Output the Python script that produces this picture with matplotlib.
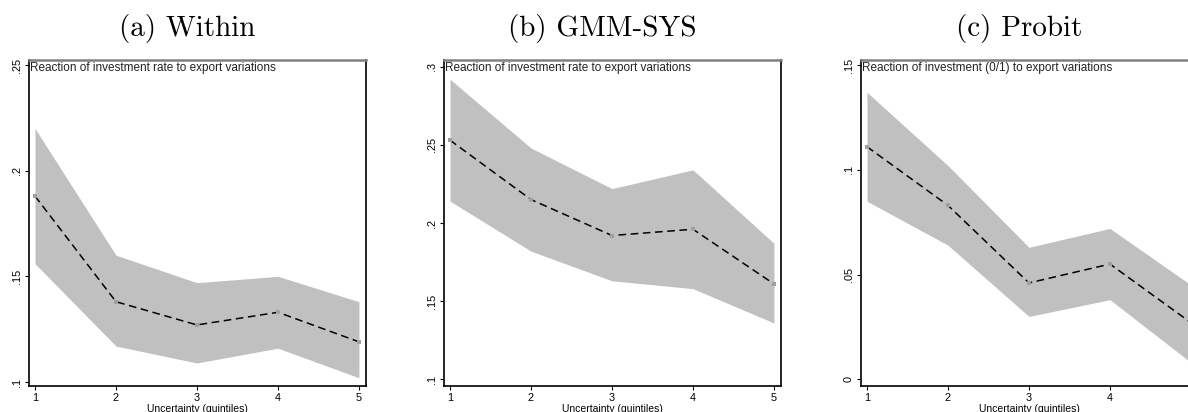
import matplotlib
matplotlib.use("Agg")
import matplotlib.pyplot as plt

quintiles = [1, 2, 3, 4, 5]

# (a) Within
within_est = [0.188, 0.138, 0.127, 0.133, 0.119]
within_hi = [0.220, 0.160, 0.147, 0.150, 0.138]
within_lo = [0.156, 0.117, 0.109, 0.116, 0.102]
within_yticks = [0.1, 0.15, 0.2, 0.25]
within_ylabels = [".1", ".15", ".2", ".25"]

# (b) GMM-SYS
gmm_est = [0.253, 0.215, 0.192, 0.196, 0.161]
gmm_hi = [0.292, 0.248, 0.222, 0.234, 0.187]
gmm_lo = [0.214, 0.182, 0.163, 0.158, 0.136]
gmm_yticks = [0.1, 0.15, 0.2, 0.25, 0.3]
gmm_ylabels = [".1", ".15", ".2", ".25", ".3"]

# (c) Probit
probit_est = [0.111, 0.083, 0.046, 0.055, 0.027]
probit_hi = [0.137, 0.102, 0.063, 0.072, 0.045]
probit_lo = [0.085, 0.064, 0.030, 0.038, 0.008]
probit_yticks = [0, 0.05, 0.1, 0.15]
probit_ylabels = ["0", ".05", ".1", ".15"]

titles = ["(a) Within", "(b) GMM-SYS", "(c) Probit"]
notes = ["Reaction of investment rate to export variations",
         "Reaction of investment rate to export variations",
         "Reaction of investment (0/1) to export variations"]

panels = [
    (within_est, within_hi, within_lo, within_yticks, within_ylabels, (0.0981, 0.2524)),
    (gmm_est, gmm_hi, gmm_lo, gmm_yticks, gmm_ylabels, (0.0957, 0.3043)),
    (probit_est, probit_hi, probit_lo, probit_yticks, probit_ylabels, (-0.0032, 0.1524)),
]

W, H = 1188, 412
fig = plt.figure(figsize=(W / 100, H / 100), dpi=100)
lefts = [29, 444, 861]
ax_w = 337
top, bottom = 60, 386
sans = "Liberation Sans"

for i, (est, hi, lo, yt, yl, ylim) in enumerate(panels):
    ax = fig.add_axes([lefts[i] / W, 1 - bottom / H, ax_w / W, (bottom - top) / H])
    ax.fill_between(quintiles, lo, hi, color="#c0c0c0", linewidth=0)
    ax.plot(quintiles, est, color="black", linestyle=(0, (5, 3)), linewidth=1.1)
    ax.plot(quintiles, est, linestyle="none", marker="s", markersize=3.5,
            color="#a0a0a0", markeredgewidth=0)
    ax.set_xlim(0.926, 5.087)
    ax.set_ylim(*ylim)
    ax.set_xticks(quintiles)
    ax.set_xticklabels([str(q) for q in quintiles], fontsize=7.8, family=sans)
    ax.set_yticks(yt)
    ax.set_yticklabels(yl, fontsize=7.8, family=sans, rotation=90, va="center")
    ax.tick_params(length=3, width=0.8, pad=2)
    ax.set_xlabel("Uncertainty (quintiles)", fontsize=7.5, family=sans, labelpad=1)
    for side in ["left", "bottom", "right"]:
        ax.spines[side].set_color("black")
        ax.spines[side].set_linewidth(1.2)
    ax.spines["top"].set_color("#808080")
    ax.spines["top"].set_linewidth(1.8)
    ax.text(0.003, 0.995, notes[i], transform=ax.transAxes, ha="left", va="top",
            fontsize=8.5, family=sans, color="#222222")
    fig.text((lefts[i] + (187 - 29)) / W, 1 - 28.5 / H, titles[i], ha="center",
             va="center", fontsize=21, family="cmr10")

fig.savefig("out.png", dpi=100)
